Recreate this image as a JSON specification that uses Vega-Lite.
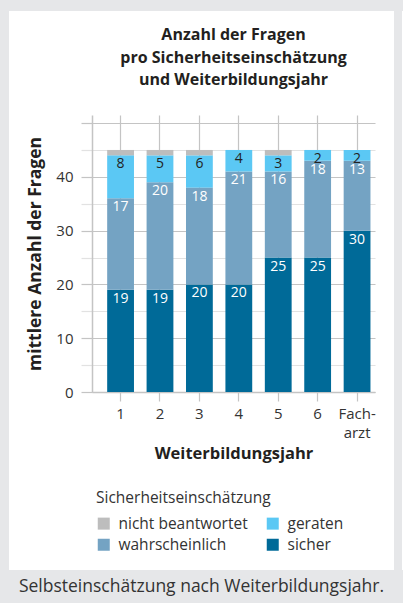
{
  "$schema": "https://vega.github.io/schema/vega-lite/v6.json",
  "padding": 0,
  "background": "#ffffff",
  "config": {
    "font": "Open Sans",
    "concat": {"spacing": 0},
    "view": {"stroke": null}
  },
  "datasets": {
    "fragen": [
      {"jahr": "1", "kat": "sicher", "ord": 1, "n": 19},
      {"jahr": "1", "kat": "wahrscheinlich", "ord": 2, "n": 17},
      {"jahr": "1", "kat": "geraten", "ord": 3, "n": 8},
      {"jahr": "1", "kat": "nicht beantwortet", "ord": 4, "n": 1},
      {"jahr": "2", "kat": "sicher", "ord": 1, "n": 19},
      {"jahr": "2", "kat": "wahrscheinlich", "ord": 2, "n": 20},
      {"jahr": "2", "kat": "geraten", "ord": 3, "n": 5},
      {"jahr": "2", "kat": "nicht beantwortet", "ord": 4, "n": 1},
      {"jahr": "3", "kat": "sicher", "ord": 1, "n": 20},
      {"jahr": "3", "kat": "wahrscheinlich", "ord": 2, "n": 18},
      {"jahr": "3", "kat": "geraten", "ord": 3, "n": 6},
      {"jahr": "3", "kat": "nicht beantwortet", "ord": 4, "n": 1},
      {"jahr": "4", "kat": "sicher", "ord": 1, "n": 20},
      {"jahr": "4", "kat": "wahrscheinlich", "ord": 2, "n": 21},
      {"jahr": "4", "kat": "geraten", "ord": 3, "n": 4},
      {"jahr": "4", "kat": "nicht beantwortet", "ord": 4, "n": 0},
      {"jahr": "5", "kat": "sicher", "ord": 1, "n": 25},
      {"jahr": "5", "kat": "wahrscheinlich", "ord": 2, "n": 16},
      {"jahr": "5", "kat": "geraten", "ord": 3, "n": 3},
      {"jahr": "5", "kat": "nicht beantwortet", "ord": 4, "n": 1},
      {"jahr": "6", "kat": "sicher", "ord": 1, "n": 25},
      {"jahr": "6", "kat": "wahrscheinlich", "ord": 2, "n": 18},
      {"jahr": "6", "kat": "geraten", "ord": 3, "n": 2},
      {"jahr": "6", "kat": "nicht beantwortet", "ord": 4, "n": 0},
      {"jahr": "Facharzt", "kat": "sicher", "ord": 1, "n": 30},
      {"jahr": "Facharzt", "kat": "wahrscheinlich", "ord": 2, "n": 13},
      {"jahr": "Facharzt", "kat": "geraten", "ord": 3, "n": 2},
      {"jahr": "Facharzt", "kat": "nicht beantwortet", "ord": 4, "n": 0}
    ],
    "leer": [],
    "bildunterschrift": [{"text": "Selbsteinschätzung nach Weiterbildungsjahr."}]
  },
  "spacing": 0,
  "resolve": {"scale": {"color": "independent"}, "legend": {"color": "independent"}},
  "vconcat": [
    {"width": 403, "height": 11, "view": {"fill": "#e6e7e9", "stroke": null}, "data": {"name": "leer"}, "mark": "point"},
    {
      "spacing": 0,
      "resolve": {"scale": {"color": "independent"}, "legend": {"color": "independent"}},
      "hconcat": [
        {"width": 9, "height": 559, "view": {"fill": "#e6e7e9", "stroke": null}, "data": {"name": "leer"}, "mark": "point"},
        {
          "spacing": 0,
          "resolve": {"scale": {"color": "independent"}, "legend": {"color": "independent"}},
          "vconcat": [
            {"width": 10, "height": 16, "data": {"name": "leer"}, "mark": "point"},
            {
              "spacing": 0,
              "resolve": {"scale": {"color": "independent"}, "legend": {"color": "independent"}},
              "hconcat": [
                {"width": 17, "height": 10, "data": {"name": "leer"}, "mark": "point"},
                {
                  "width": 283,
                  "height": 277,
                  "data": {"name": "fragen"},
                  "transform": [
                    {"stack": "n", "groupby": ["jahr"], "sort": [{"field": "ord", "order": "ascending"}], "as": ["y0", "y1"]}
                  ],
                  "title": {
                    "text": ["Anzahl der Fragen", "pro Sicherheitseinschätzung", "und Weiterbildungsjahr"],
                    "fontSize": 16,
                    "fontWeight": "bold",
                    "color": "#231f20",
                    "lineHeight": 22.5,
                    "anchor": "middle",
                    "frame": "group",
                    "offset": 27
                  },
                  "encoding": {
                    "x": {
                      "field": "jahr",
                      "type": "nominal",
                      "sort": ["1", "2", "3", "4", "5", "6", "Facharzt"],
                      "scale": {"paddingInner": 0.32, "paddingOuter": 0.25, "align": 0.77},
                      "axis": {
                        "title": "Weiterbildungsjahr",
                        "titleFontSize": 16.5,
                        "titleFontWeight": "bold",
                        "titleColor": "#231f20",
                        "titlePadding": 5,
                        "labelAngle": 0,
                        "labelFontSize": 15,
                        "labelColor": "#333333",
                        "labelPadding": 5,
                        "labelLineHeight": 19,
                        "labelExpr": "datum.value === 'Facharzt' ? ['Fach-', 'arzt'] : datum.label",
                        "grid": true,
                        "gridColor": "#c4c4c4",
                        "gridWidth": 1.2,
                        "tickSize": 9,
                        "tickColor": "#c4c4c4",
                        "tickWidth": 1.2,
                        "domainColor": "#c4c4c4",
                        "domainWidth": 1.5
                      }
                    },
                    "y": {
                      "field": "y1",
                      "type": "quantitative",
                      "scale": {"domain": [0, 51.5], "nice": false},
                      "axis": {
                        "title": "mittlere Anzahl der Fragen",
                        "titleFontSize": 17.5,
                        "titleFontWeight": "bold",
                        "titleColor": "#231f20",
                        "titlePadding": 11,
                        "values": [0, 5, 10, 15, 20, 25, 30, 35, 40, 45, 50],
                        "labelExpr": "datum.value % 10 === 0 && datum.value < 50 ? datum.label : ''",
                        "labelOverlap": false,
                        "labelFontSize": 15,
                        "labelColor": "#333333",
                        "labelPadding": 8,
                        "tickSize": 11,
                        "tickWidth": 1.2,
                        "tickColor": {"condition": {"test": "datum.value % 10 === 0", "value": "#c4c4c4"}, "value": "#e2e2e2"},
                        "grid": true,
                        "gridWidth": 1.2,
                        "gridColor": {"condition": {"test": "datum.value % 10 === 0", "value": "#c4c4c4"}, "value": "#e2e2e2"},
                        "domainColor": "#c4c4c4",
                        "domainWidth": 1.5
                      }
                    }
                  },
                  "layer": [
                    {
                      "mark": {"type": "bar"},
                      "encoding": {
                        "y2": {"field": "y0"},
                        "color": {
                          "field": "kat",
                          "type": "nominal",
                          "scale": {
                            "domain": ["nicht beantwortet", "geraten", "wahrscheinlich", "sicher"],
                            "range": ["#bdbdbd", "#5bc8f4", "#74a3c3", "#006a98"]
                          },
                          "legend": {
                            "title": "Sicherheitseinschätzung",
                            "orient": "bottom",
                            "direction": "horizontal",
                            "columns": 2,
                            "symbolType": "square",
                            "symbolSize": 144,
                            "symbolStrokeWidth": 0,
                            "symbolOpacity": 1,
                            "titleFontSize": 15.5,
                            "titleFontWeight": "normal",
                            "titleColor": "#333333",
                            "titlePadding": 9,
                            "labelFontSize": 15.5,
                            "labelColor": "#333333",
                            "labelOffset": 7,
                            "rowPadding": 4.5,
                            "columnPadding": 17,
                            "offset": 25,
                            "padding": 4
                          }
                        }
                      }
                    },
                    {
                      "transform": [{"filter": "datum.kat !== 'nicht beantwortet'"}],
                      "mark": {"type": "text", "baseline": "top", "dy": 2, "fontSize": 14},
                      "encoding": {
                        "text": {"field": "n", "type": "quantitative"},
                        "color": {"condition": {"test": "datum.kat === 'geraten'", "value": "#222222"}, "value": "#ffffff"}
                      }
                    }
                  ]
                },
                {"width": 18, "height": 10, "data": {"name": "leer"}, "mark": "point"}
              ]
            }
          ]
        },
        {"width": 8, "height": 559, "view": {"fill": "#e6e7e9", "stroke": null}, "data": {"name": "leer"}, "mark": "point"}
      ]
    },
    {
      "width": 403,
      "height": 33,
      "view": {"fill": "#e6e7e9", "stroke": null},
      "data": {"name": "bildunterschrift"},
      "mark": {"type": "text", "fontSize": 17.5, "color": "#333333", "baseline": "middle", "align": "center"},
      "encoding": {"text": {"field": "text", "type": "nominal"}}
    }
  ]
}
